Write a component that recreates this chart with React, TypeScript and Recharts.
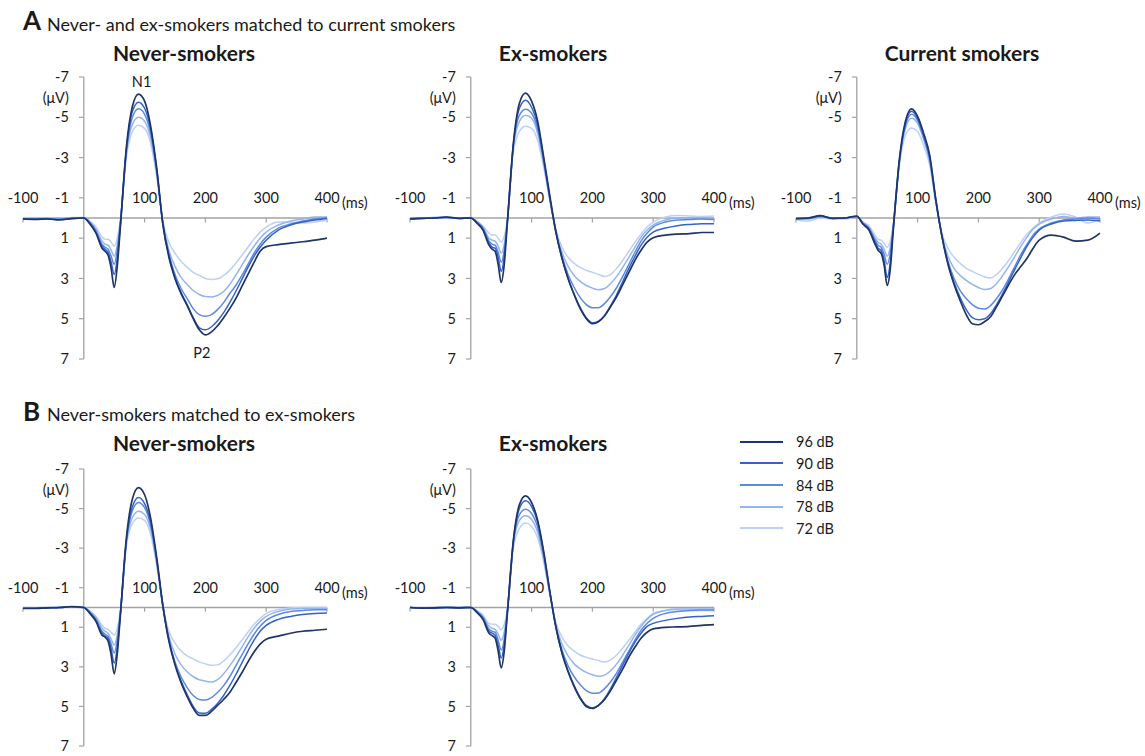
import React from 'react';
import { LineChart, Line, XAxis, YAxis, ReferenceLine, ReferenceDot, Legend } from 'recharts';

const FONT = 'Lato, "Open Sans", sans-serif';
const INK = '#1a1a1a';
const AXIS = '#a3a3a3';

// sample times (ms)
const TIMES = [-100, -80, -60, -40, -20, 0, 10, 20, 30, 35, 40, 45, 50, 55, 60, 70, 80, 90, 100, 110, 120, 130,
  140, 150, 160, 170, 180, 190, 200, 210, 220, 230, 240, 250, 260, 270, 280, 290, 300, 320, 340, 360, 380, 400];

const LEVELS = ['96 dB', '90 dB', '84 dB', '78 dB', '72 dB'];
const COLORS = ['#1f3468', '#3562c9', '#5d8ae0', '#94b4ee', '#bcd1f5'];
const X_TICKS = [-100, 100, 200, 300, 400];
const Y_TICKS = [-7, -5, -3, -1, 1, 3, 5, 7];

// A: never-smokers
const A1_96 = [0.05, 0.07, 0.05, 0.1, 0.03, 0.0, 0.3, 0.75, 1.5, 1.65, 1.85, 2.5, 3.45, 2.4, 0.5, -3.5, -5.55, -6.15, -5.8, -4.55, -2.45, 0.3, 1.95, 3.0, 3.75, 4.35, 5.0, 5.55, 5.8, 5.65, 5.35, 4.95, 4.5, 4.0, 3.4, 2.8, 2.2, 1.65, 1.42, 1.32, 1.25, 1.18, 1.1, 1.0];
const A1_90 = [0.04, 0.06, 0.04, 0.08, 0.02, 0.0, 0.25, 0.7, 1.4, 1.55, 1.7, 2.2, 2.8, 2.0, 0.4, -3.4, -5.3, -5.75, -5.45, -4.4, -2.4, 0.3, 1.85, 2.95, 3.7, 4.3, 4.95, 5.45, 5.55, 5.4, 5.1, 4.7, 4.2, 3.65, 3.05, 2.45, 1.9, 1.45, 1.1, 0.6, 0.35, 0.2, 0.1, 0.02];
const A1_84 = [0.03, 0.05, 0.03, 0.06, 0.0, 0.0, 0.22, 0.65, 1.3, 1.45, 1.55, 1.9, 2.3, 1.6, 0.3, -3.3, -5.0, -5.42, -5.15, -4.2, -2.3, 0.25, 1.8, 2.8, 3.5, 4.0, 4.5, 4.8, 4.88, 4.8, 4.55, 4.2, 3.75, 3.35, 2.85, 2.3, 1.75, 1.3, 0.95, 0.5, 0.3, 0.15, 0.05, 0.0];
const A1_78 = [0.02, 0.04, 0.02, 0.05, 0.0, -0.02, 0.2, 0.55, 1.15, 1.3, 1.35, 1.6, 1.9, 1.35, 0.25, -3.2, -4.65, -5.0, -4.8, -3.95, -2.2, 0.2, 1.6, 2.4, 2.95, 3.3, 3.6, 3.8, 3.9, 3.92, 3.85, 3.65, 3.3, 2.85, 2.35, 1.85, 1.4, 1.0, 0.7, 0.35, 0.15, 0.05, -0.05, -0.05];
const A1_72 = [0.0, 0.03, 0.02, 0.04, -0.02, -0.03, 0.15, 0.45, 0.95, 1.05, 1.05, 1.2, 1.4, 1.0, 0.15, -3.0, -4.3, -4.6, -4.45, -3.7, -2.05, 0.15, 1.2, 1.75, 2.15, 2.45, 2.7, 2.85, 3.0, 3.05, 3.02, 2.85, 2.6, 2.25, 1.85, 1.45, 1.05, 0.7, 0.45, 0.2, 0.2, 0.25, 0.2, 0.1];

// A: ex-smokers
const A2_96 = [0.05, 0.02, 0.0, -0.05, 0.02, 0.0, 0.25, 0.6, 1.35, 1.55, 1.65, 2.3, 3.2, 2.3, 0.3, -3.7, -5.7, -6.2, -5.8, -4.8, -3.0, -1.1, 0.7, 2.0, 3.0, 3.8, 4.5, 5.0, 5.25, 5.15, 4.85, 4.4, 3.9, 3.3, 2.7, 2.1, 1.6, 1.2, 0.98, 0.85, 0.8, 0.78, 0.72, 0.72];
const A2_90 = [0.04, 0.02, 0.0, -0.04, 0.02, 0.0, 0.22, 0.55, 1.25, 1.45, 1.5, 1.95, 2.65, 1.9, 0.25, -3.65, -5.45, -5.85, -5.5, -4.6, -2.9, -1.0, 0.7, 2.0, 3.0, 3.8, 4.45, 4.95, 5.2, 5.12, 4.85, 4.35, 3.8, 3.15, 2.5, 1.9, 1.35, 0.95, 0.7, 0.5, 0.38, 0.32, 0.28, 0.28];
const A2_84 = [0.03, 0.01, 0.0, -0.03, 0.01, 0.0, 0.2, 0.5, 1.15, 1.3, 1.35, 1.7, 2.2, 1.6, 0.2, -3.6, -5.1, -5.4, -5.2, -4.4, -2.8, -0.95, 0.7, 1.9, 2.8, 3.45, 3.95, 4.3, 4.45, 4.45, 4.25, 3.9, 3.45, 2.9, 2.3, 1.7, 1.15, 0.75, 0.45, 0.2, 0.1, 0.08, 0.05, 0.08];
const A2_78 = [0.02, 0.0, -0.02, -0.03, 0.0, 0.0, 0.18, 0.45, 1.0, 1.1, 1.15, 1.4, 1.75, 1.3, 0.15, -3.5, -4.8, -5.1, -4.95, -4.2, -2.7, -0.9, 0.65, 1.7, 2.4, 2.85, 3.15, 3.35, 3.48, 3.56, 3.5, 3.25, 2.9, 2.45, 1.95, 1.45, 0.95, 0.6, 0.35, 0.1, 0.0, 0.0, 0.0, 0.0];
const A2_72 = [0.02, 0.0, -0.03, -0.02, 0.0, -0.02, 0.15, 0.4, 0.75, 0.85, 0.85, 1.0, 1.2, 0.9, 0.1, -3.3, -4.3, -4.55, -4.45, -3.85, -2.5, -0.85, 0.55, 1.45, 1.95, 2.25, 2.45, 2.6, 2.7, 2.8, 2.9, 2.8, 2.5, 2.1, 1.65, 1.2, 0.8, 0.45, 0.2, -0.05, -0.12, -0.1, -0.08, -0.1];

// A: current smokers
const A3_96 = [0.03, 0.0, -0.12, 0.02, 0.0, -0.1, 0.3, 0.6, 1.3, 1.6, 1.75, 2.35, 3.35, 2.55, 0.6, -2.9, -4.8, -5.42, -5.05, -4.2, -3.1, -0.9, 0.9, 2.3, 3.3, 4.1, 4.8, 5.25, 5.3, 5.15, 4.9, 4.4, 3.85, 3.3, 2.8, 2.4, 2.0, 1.5, 1.1, 0.85, 0.95, 1.15, 1.1, 0.75];
const A3_90 = [0.02, 0.0, -0.1, 0.02, 0.0, -0.08, 0.28, 0.55, 1.2, 1.5, 1.6, 2.1, 2.95, 2.2, 0.5, -2.85, -4.7, -5.3, -4.95, -4.1, -3.0, -0.9, 0.9, 2.25, 3.2, 3.95, 4.55, 4.95, 5.05, 5.0, 4.75, 4.3, 3.75, 3.15, 2.55, 1.95, 1.4, 0.95, 0.6, 0.3, 0.15, 0.12, 0.1, 0.15];
const A3_84 = [0.02, 0.02, -0.08, 0.0, 0.0, -0.08, 0.25, 0.5, 1.1, 1.35, 1.45, 1.8, 2.3, 1.75, 0.45, -2.8, -4.6, -5.15, -4.85, -4.0, -2.9, -0.85, 0.9, 2.15, 3.0, 3.6, 4.0, 4.3, 4.48, 4.52, 4.35, 4.0, 3.55, 3.0, 2.4, 1.8, 1.3, 0.85, 0.55, 0.25, 0.1, 0.05, 0.0, 0.05];
const A3_78 = [0.05, 0.05, -0.05, 0.0, 0.02, -0.06, 0.22, 0.45, 1.0, 1.2, 1.3, 1.55, 1.9, 1.45, 0.4, -2.75, -4.45, -4.95, -4.7, -3.9, -2.8, -0.8, 0.85, 1.9, 2.5, 2.85, 3.1, 3.3, 3.45, 3.55, 3.5, 3.25, 2.85, 2.4, 1.9, 1.4, 0.95, 0.55, 0.3, 0.05, -0.08, 0.0, -0.05, -0.05];
const A3_72 = [0.1, 0.15, 0.0, 0.05, 0.05, -0.05, 0.2, 0.4, 0.85, 1.05, 1.1, 1.25, 1.45, 1.15, 0.3, -2.6, -4.1, -4.47, -4.3, -3.6, -2.6, -0.75, 0.75, 1.5, 1.95, 2.25, 2.5, 2.65, 2.8, 2.92, 2.98, 2.8, 2.5, 2.1, 1.65, 1.2, 0.8, 0.5, 0.25, -0.05, -0.2, -0.05, 0.25, 0.05];

// B: never-smokers
const B1_96 = [0.05, 0.05, 0.02, 0.0, -0.05, 0.0, 0.3, 0.7, 1.4, 1.5, 1.7, 2.4, 3.35, 2.35, 0.45, -3.5, -5.5, -6.06, -5.7, -4.5, -2.5, -0.1, 1.7, 2.9, 3.8, 4.5, 5.1, 5.45, 5.45, 5.25, 4.95, 4.65, 4.3, 3.8, 3.3, 2.75, 2.25, 1.85, 1.6, 1.45, 1.3, 1.2, 1.15, 1.1];
const B1_90 = [0.04, 0.04, 0.02, 0.0, -0.04, 0.0, 0.27, 0.65, 1.3, 1.45, 1.55, 2.1, 2.8, 2.0, 0.4, -3.4, -5.1, -5.56, -5.25, -4.3, -2.4, -0.1, 1.65, 2.85, 3.7, 4.4, 5.0, 5.33, 5.35, 5.15, 4.85, 4.45, 3.95, 3.4, 2.8, 2.2, 1.65, 1.2, 0.9, 0.6, 0.45, 0.35, 0.3, 0.28];
const B1_84 = [0.03, 0.03, 0.01, 0.0, -0.03, 0.0, 0.24, 0.6, 1.2, 1.35, 1.45, 1.85, 2.3, 1.65, 0.35, -3.35, -4.9, -5.31, -5.05, -4.15, -2.35, -0.1, 1.6, 2.75, 3.5, 4.05, 4.45, 4.65, 4.68, 4.55, 4.3, 3.95, 3.5, 2.95, 2.4, 1.85, 1.35, 0.95, 0.65, 0.35, 0.2, 0.15, 0.12, 0.12];
const B1_78 = [0.02, 0.02, 0.0, 0.0, -0.02, 0.0, 0.2, 0.5, 1.05, 1.2, 1.3, 1.6, 1.9, 1.4, 0.3, -3.25, -4.55, -4.86, -4.7, -3.95, -2.25, -0.1, 1.45, 2.35, 2.9, 3.25, 3.5, 3.65, 3.72, 3.77, 3.65, 3.35, 2.95, 2.5, 2.0, 1.5, 1.05, 0.7, 0.45, 0.2, 0.08, 0.05, 0.05, 0.05];
const B1_72 = [0.02, 0.01, 0.0, -0.01, -0.02, 0.0, 0.17, 0.45, 0.9, 1.05, 1.1, 1.25, 1.4, 1.05, 0.2, -3.1, -4.25, -4.52, -4.4, -3.7, -2.1, -0.1, 1.2, 1.8, 2.2, 2.45, 2.6, 2.75, 2.85, 2.92, 2.9, 2.7, 2.4, 2.05, 1.65, 1.25, 0.85, 0.55, 0.3, 0.1, 0.02, 0.0, 0.0, 0.0];

// B: ex-smokers
const B2_96 = [0.0, 0.03, 0.02, 0.0, 0.02, 0.0, 0.25, 0.6, 1.3, 1.42, 1.55, 2.2, 3.05, 2.2, 0.35, -3.4, -5.2, -5.64, -5.3, -4.4, -2.8, -0.8, 1.0, 2.3, 3.25, 4.0, 4.6, 5.0, 5.1, 4.95, 4.65, 4.2, 3.65, 3.1, 2.5, 2.0, 1.55, 1.25, 1.08, 1.0, 0.98, 0.95, 0.9, 0.87];
const B2_90 = [0.0, 0.02, 0.02, 0.0, 0.01, 0.0, 0.22, 0.55, 1.2, 1.3, 1.4, 1.9, 2.55, 1.85, 0.3, -3.35, -5.0, -5.39, -5.1, -4.3, -2.75, -0.8, 1.0, 2.3, 3.2, 3.95, 4.55, 4.95, 5.08, 4.95, 4.6, 4.1, 3.5, 2.9, 2.3, 1.75, 1.3, 0.95, 0.8, 0.65, 0.55, 0.48, 0.45, 0.42];
const B2_84 = [0.0, 0.02, 0.01, 0.0, 0.0, 0.0, 0.2, 0.5, 1.1, 1.2, 1.25, 1.65, 2.15, 1.6, 0.25, -3.3, -4.7, -4.97, -4.75, -4.05, -2.6, -0.75, 0.95, 2.15, 2.95, 3.5, 3.9, 4.2, 4.33, 4.32, 4.1, 3.75, 3.3, 2.75, 2.2, 1.65, 1.15, 0.8, 0.55, 0.3, 0.2, 0.15, 0.13, 0.13];
const B2_78 = [0.0, 0.01, 0.0, -0.01, 0.0, 0.0, 0.18, 0.45, 0.95, 1.05, 1.1, 1.35, 1.65, 1.25, 0.2, -3.2, -4.4, -4.64, -4.45, -3.8, -2.45, -0.7, 0.9, 1.85, 2.45, 2.85, 3.1, 3.28, 3.4, 3.48, 3.42, 3.2, 2.85, 2.4, 1.9, 1.4, 0.95, 0.6, 0.35, 0.15, 0.08, 0.08, 0.08, 0.08];
const B2_72 = [0.02, 0.0, 0.05, 0.0, 0.03, 0.0, 0.15, 0.38, 0.8, 0.84, 0.85, 0.95, 1.12, 0.85, 0.15, -3.0, -4.0, -4.27, -4.1, -3.5, -2.3, -0.65, 0.75, 1.5, 1.95, 2.2, 2.4, 2.52, 2.6, 2.68, 2.76, 2.65, 2.4, 2.05, 1.65, 1.25, 0.85, 0.55, 0.3, 0.15, 0.12, 0.15, 0.15, 0.17];

const PLOT_W = 304;
const ML = 32;
const MT = 40;
const MB = 12;

interface PanelProps {
  left: number;
  top: number;
  height: number;
  series: number[][];
  peaks?: boolean;
  legend?: boolean;
}

function DbLegend() {
  return (
    <div style={{ fontFamily: FONT, fontSize: 14.5, color: INK }}>
      {LEVELS.map((lv, i) => (
        <div key={lv} style={{ display: 'flex', alignItems: 'center', height: 21.7 }}>
          <svg width={43} height={4} style={{ display: 'block' }}>
            <line x1={0} y1={2} x2={43} y2={2} stroke={COLORS[i]} strokeWidth={2} />
          </svg>
          <span style={{ marginLeft: 13 }}>{lv}</span>
        </div>
      ))}
    </div>
  );
}

function Panel({ left, top, height, series, peaks, legend }: PanelProps) {
  const rows = TIMES.map((t, i) => {
    const row: Record<string, number> = { t };
    series.forEach((s, k) => {
      row[`s${k}`] = s[i];
    });
    return row;
  });
  const mr = legend ? 130 : 48;
  const lbl = { fontSize: 14.5, fill: INK };

  return (
    <div style={{ position: 'absolute', left: left - ML, top: top - MT }}>
      <LineChart
        width={PLOT_W + ML + mr}
        height={height + MT + MB}
        data={rows}
        margin={{ top: MT, right: mr, bottom: MB, left: ML }}
        style={{ fontFamily: FONT }}
      >
        <XAxis dataKey="t" type="number" domain={[-100, 400]} hide />
        <YAxis type="number" domain={[-7, 7]} reversed hide />
        <ReferenceLine y={0} stroke={AXIS} strokeWidth={1.3} />
        <ReferenceLine x={0} stroke={AXIS} strokeWidth={1.3} />
        {X_TICKS.map((t) => (
          <ReferenceLine key={`xt${t}`} segment={[{ x: t, y: 0 }, { x: t, y: 0.22 }]} stroke={AXIS} strokeWidth={1.2} />
        ))}
        {Y_TICKS.map((v) => (
          <ReferenceLine key={`yt${v}`} segment={[{ x: -8, y: v }, { x: 0, y: v }]} stroke={AXIS} strokeWidth={1.2} />
        ))}
        {X_TICKS.map((t) => (
          <ReferenceDot key={`xl${t}`} x={t} y={0} r={0} fill="none" stroke="none"
            label={{ value: String(t), position: 'top', offset: 15, ...lbl }} />
        ))}
        {Y_TICKS.map((v) => (
          <ReferenceDot key={`yl${v}`} x={0} y={v} r={0} fill="none" stroke="none"
            label={{ value: String(v), position: 'left', offset: 15, ...lbl }} />
        ))}
        <ReferenceDot x={0} y={-5.95} r={0} fill="none" stroke="none"
          label={{ value: '(μV)', position: 'left', offset: 15, ...lbl }} />
        <ReferenceDot x={400} y={-0.75} r={0} fill="none" stroke="none"
          label={{ value: '(ms)', position: 'right', offset: 15, ...lbl }} />
        {peaks && (
          <ReferenceDot x={95} y={-6.75} r={0} fill="none" stroke="none"
            label={{ value: 'N1', position: 'center', ...lbl }} />
        )}
        {peaks && (
          <ReferenceDot x={194} y={6.7} r={0} fill="none" stroke="none"
            label={{ value: 'P2', position: 'center', ...lbl }} />
        )}
        {[4, 3, 2, 1, 0].map((k) => (
          <Line
            key={k}
            type="monotone"
            dataKey={`s${k}`}
            name={LEVELS[k]}
            stroke={COLORS[k]}
            strokeWidth={k === 0 ? 1.7 : 1.5}
            dot={false}
            isAnimationActive={false}
          />
        ))}
        {legend && (
          <Legend
            layout="horizontal"
            align="center"
            verticalAlign="middle"
            width={120}
            wrapperStyle={{ left: 740 - (left - ML), top: 441.7 - 10.85 - (top - MT) }}
            content={() => <DbLegend />}
          />
        )}
      </LineChart>
    </div>
  );
}

export default function App() {
  const heading = { fontFamily: FONT, fill: INK };
  return (
    <div style={{ position: 'absolute', left: 0, top: 0, width: 1145, height: 756, overflow: 'hidden', background: '#fff' }}>
      <svg width={1145} height={756} style={{ position: 'absolute', left: 0, top: 0 }}>
        <text x={23} y={30} fontSize={26} fontWeight={700} style={heading}>A</text>
        <text x={47} y={31} fontSize={18} style={heading}>Never- and ex-smokers matched to current smokers</text>
        <text x={184} y={61} fontSize={21} fontWeight={700} textAnchor="middle" style={heading}>Never-smokers</text>
        <text x={553} y={61} fontSize={21} fontWeight={700} textAnchor="middle" style={heading}>Ex-smokers</text>
        <text x={962} y={61} fontSize={21} fontWeight={700} textAnchor="middle" style={heading}>Current smokers</text>
        <text x={23} y={421} fontSize={26} fontWeight={700} style={heading}>B</text>
        <text x={47} y={421} fontSize={18} style={heading}>Never-smokers matched to ex-smokers</text>
        <text x={184} y={451} fontSize={21} fontWeight={700} textAnchor="middle" style={heading}>Never-smokers</text>
        <text x={553} y={451} fontSize={21} fontWeight={700} textAnchor="middle" style={heading}>Ex-smokers</text>
      </svg>
      <Panel left={23} top={77} height={282} series={[A1_96, A1_90, A1_84, A1_78, A1_72]} peaks />
      <Panel left={410} top={77} height={282} series={[A2_96, A2_90, A2_84, A2_78, A2_72]} />
      <Panel left={796} top={77} height={282} series={[A3_96, A3_90, A3_84, A3_78, A3_72]} />
      <Panel left={23} top={469} height={277} series={[B1_96, B1_90, B1_84, B1_78, B1_72]} />
      <Panel left={410} top={469} height={277} series={[B2_96, B2_90, B2_84, B2_78, B2_72]} legend />
    </div>
  );
}
